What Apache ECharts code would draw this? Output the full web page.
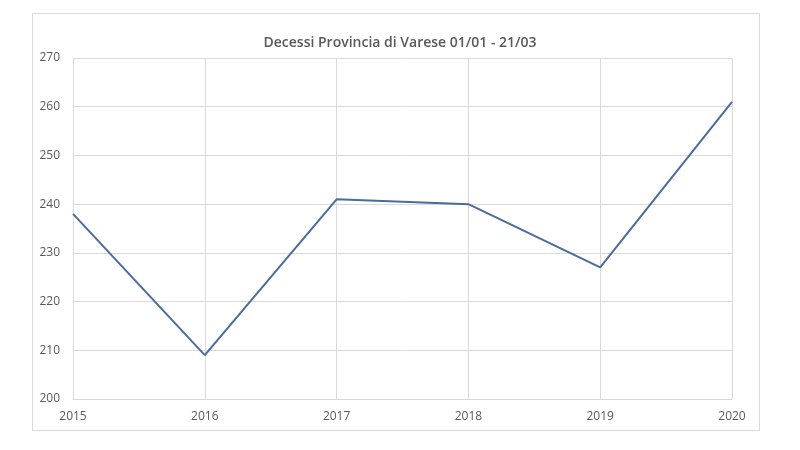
<!DOCTYPE html>
<html><head><meta charset="utf-8">
<script src="https://cdn.jsdelivr.net/npm/echarts@6/dist/echarts.min.js"></script>
<style>html,body{margin:0;padding:0;background:#fff}#c{width:800px;height:450px}</style>
</head><body><div id="c"></div>
<script>
const years = ['2015','2016','2017','2018','2019','2020'];
const deaths = [238, 209, 241, 240, 227, 261];
const titleText = 'Decessi Provincia di Varese 01/01 - 21/03';

const chart = echarts.init(document.getElementById('c'), null, {renderer:'canvas'});
chart.setOption({
  animation:false,
  backgroundColor:'#fff',
  graphic:[{type:'rect',shape:{x:32.5,y:13.5,width:727,height:417},style:{fill:'none',stroke:'#d9d9d9',lineWidth:1},silent:true,z:-1}],
  title:{text:titleText,left:'center',top:31,textStyle:{fontFamily:'Open Sans',fontSize:14,fontWeight:600,color:'#595959'}},
  grid:{left:73,right:68,top:58,bottom:51},
  xAxis:{type:'category',data:years,boundaryGap:false,
    axisLine:{lineStyle:{color:'#d9d9d9'}},axisTick:{show:false},
    axisLabel:{color:'#595959',fontFamily:'Open Sans',fontSize:12,margin:12},
    splitLine:{show:true,lineStyle:{color:'#d9d9d9'}}},
  yAxis:{type:'value',min:200,max:270,interval:10,
    axisLine:{show:true,lineStyle:{color:'#d9d9d9'}},axisTick:{show:false},
    axisLabel:{color:'#595959',fontFamily:'Open Sans',fontSize:12,margin:13},
    splitLine:{lineStyle:{color:'#d9d9d9'}}},
  series:[{type:'line',data:deaths,symbol:'none',lineStyle:{color:'#4a6b9e',width:2}}]
});
</script></body></html>
